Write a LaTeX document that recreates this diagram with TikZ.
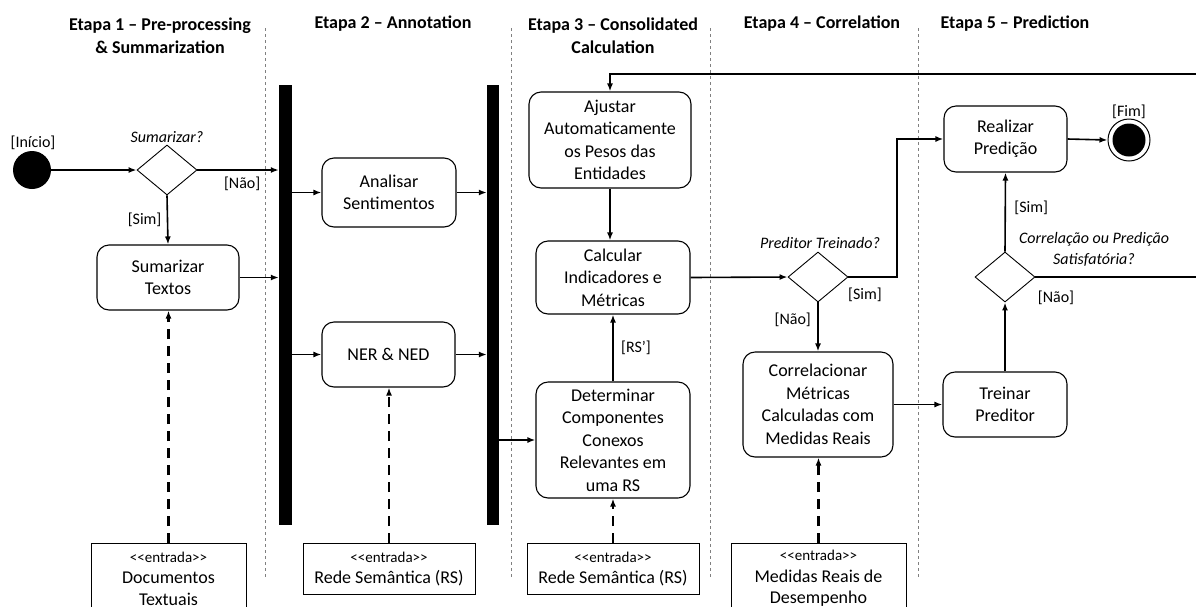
\documentclass[tikz,border=0pt]{standalone}
\usepackage{fontspec}
\setmainfont{Carlito}
\usetikzlibrary{shapes.geometric, arrows.meta}

\tikzset{
  act/.style={draw, rounded corners=12pt, line width=1.1pt, align=center, inner sep=0pt, font=\fontsize{18}{22.5}\selectfont},
  decision/.style={diamond, draw, line width=0.9pt, minimum width=60pt, minimum height=50pt, inner sep=0pt},
  syncbar/.style={fill=black, inner sep=0pt, minimum width=13pt, minimum height=440pt},
  inbox/.style={draw, line width=1pt, align=center, inner sep=0pt, font=\fontsize{18}{21.5}\selectfont},
  flow/.style={-{Latex[length=8pt, width=6pt]}, line width=1.6pt},
  dep/.style={flow, line width=2.2pt, dash pattern=on 10pt off 7pt},
  lane/.style={gray, dashed, line width=0.6pt},
  guard/.style={font=\fontsize{16}{19}\selectfont},
  ask/.style={font=\fontsize{16}{21}\selectfont\itshape, align=center},
  stage/.style={font=\fontsize{18}{23}\selectfont\bfseries, align=center},
}
\newcommand{\stereo}{{\fontsize{15}{18}\selectfont <{}<entrada>{}>}}

\begin{document}
\begin{tikzpicture}[x=1pt, y=-1pt]
    \useasboundingbox (0,0) rectangle (1196,606);

    % Stage titles
    \node[stage] (st1) at (160,35.5) {Etapa 1 – Pre-processing\\\& Summarization};
    \node[stage] (st2) at (393,24) {Etapa 2 – Annotation};
    \node[stage] (st3) at (613,35.5) {Etapa 3 – Consolidated\\Calculation};
    \node[stage] (st4) at (822,24) {Etapa 4 – Correlation};
    \node[stage] (st5) at (1015,24) {Etapa 5 – Prediction};

    % Lane separators
    \draw[lane] (265,28) -- (265,577);
    \draw[lane] (511,28) -- (511,577);
    \draw[lane] (710,28) -- (710,577);
    \draw[lane] (918,28) -- (918,577);

    % Stage 1
    \node[circle, fill=black, minimum size=38pt, inner sep=0pt] (start) at (32,170) {};
    \node[guard] (startlbl) at (33,143) {[Início]};
    \node[decision] (sumq) at (167,170) {};
    \node[ask] (sumqlbl) at (167,137) {Sumarizar?};
    \node[act, minimum width=142pt, minimum height=65pt] (sumtext) at (168,277.5) {Sumarizar\\Textos};
    \node[inbox, anchor=north, minimum width=155pt, minimum height=70pt] (docs) at (168.5,543) {\stereo\\Documentos\\Textuais};

    % Stage 2
    \node[syncbar] (bar1) at (285.5,305) {};
    \node[act, minimum width=134pt, minimum height=69pt] (senti) at (389,192.5) {Analisar\\Sentimentos};
    \node[act, minimum width=133pt, minimum height=65pt] (ner) at (388.5,354.5) {NER \& NED};
    \node[inbox, anchor=north, minimum width=172pt, minimum height=51pt] (rs1) at (389,543) {\stereo\\Rede Semântica (RS)};

    % Stage 3
    \node[syncbar, minimum width=12pt] (bar2) at (493,305) {};
    \node[act, minimum width=162pt, minimum height=96pt] (pesos) at (610,140) {Ajustar\\Automaticamente\\os Pesos das\\Entidades};
    \node[act, minimum width=154pt, minimum height=73pt] (calc) at (613,277.5) {Calcular\\Indicadores e\\Métricas};
    \node[act, minimum width=154pt, minimum height=116pt] (comp) at (613,440) {Determinar\\Componentes\\Conexos\\Relevantes em\\uma RS};
    \node[inbox, anchor=north, minimum width=172pt, minimum height=51pt] (rs2) at (613,543) {\stereo\\Rede Semântica (RS)};

    % Stage 4
    \node[decision] (trainq) at (818,277) {};
    \node[ask] (trainqlbl) at (820,243) {Preditor Treinado?};
    \node[act, minimum width=150pt, minimum height=105pt] (correl) at (818,404.5) {Correlacionar\\Métricas\\Calculadas com\\Medidas Reais};
    \node[inbox, anchor=north, minimum width=175pt, minimum height=70pt] (medidas) at (818.5,543) {\stereo\\Medidas Reais de\\Desempenho};

    % Stage 5
    \node[act, minimum width=123pt, minimum height=66pt] (pred) at (1005.5,139) {Realizar\\Predição};
    \node[circle, draw, line width=1pt, minimum size=42pt, inner sep=0pt,
          path picture={\fill (path picture bounding box.center) circle (16.5pt);}] (fim) at (1129,140) {};
    \node[guard] (fimlbl) at (1129,112) {[Fim]};
    \node[act, minimum width=124pt, minimum height=65pt] (train) at (1005,404.5) {Treinar\\Preditor};
    \node[decision] (okq) at (1005,277) {};
    \node[ask] (okqlbl) at (1094,249.5) {Correlação ou Predição\\Satisfatória?};

    \coordinate (up) at (897,139);
    \coordinate (back) at (1215,74);

    % Control flow
    \draw[flow] (start) -- (sumq);
    \draw[flow] (sumq.east) -- (sumq.east -| bar1.west) node[guard, pos=0.55, below=3pt] {[Não]};
    \draw[flow] (sumq.south) -- (sumtext.north) node[guard, midway, left=2pt] {[Sim]};
    \draw[flow] (sumtext.east) -- (sumtext.east -| bar1.west);
    \draw[flow] (bar1.east |- senti.west) -- (senti.west);
    \draw[flow] (bar1.east |- ner.west) -- (ner.west);
    \draw[flow] (senti.east) -- (senti.east -| bar2.west);
    \draw[flow] (ner.east) -- (ner.east -| bar2.west);
    \draw[flow] (bar2.east |- comp.west) -- (comp.west);
    \draw[flow] (comp.north) -- (calc.south) node[guard, midway, right=4pt] {[RS’]};
    \draw[flow] (pesos.south) -- (pesos.south |- calc.north);
    \draw[flow] (calc.east) -- (trainq.west);
    \draw[flow] (trainq.east) -| (up) -- (pred.west);
    \node[guard] (simlbl) at (865,295) {[Sim]};
    \draw[flow] (trainq.south) -- (correl.north) node[guard, pos=0.35, left=3pt] {[Não]};
    \draw[flow] (correl.east) -- (train.west);
    \draw[flow] (train.north) -- (okq.south);
    \draw[flow] (okq.north) -- (pred.south) node[guard, pos=0.55, right=5pt] {[Sim]};
    \draw[flow] (okq.east) -| (back) -| (pesos.north);
    \node[guard] (naolbl) at (1056,298) {[Não]};
    \draw[flow] (pred.east) -- (fim.west);

    % Inputs
    \draw[dep] (docs.north) -- (docs.north |- sumtext.south);
    \draw[dep] (rs1.north) -- (rs1.north |- ner.south);
    \draw[dep] (rs2.north) -- (rs2.north |- comp.south);
    \draw[dep] (medidas.north) -- (medidas.north |- correl.south);
\end{tikzpicture}
\end{document}
